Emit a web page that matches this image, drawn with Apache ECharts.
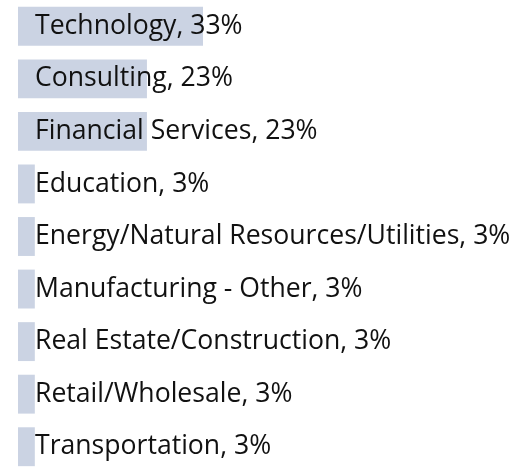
<!DOCTYPE html>
<html>
<head>
<meta charset="utf-8">
<style>
  html, body { margin: 0; padding: 0; background: #ffffff; }
  #chart { width: 524px; height: 473px; }
</style>
<script src="https://cdn.jsdelivr.net/npm/echarts@6/dist/echarts.min.js"></script>
</head>
<body>
<div id="chart"></div>
<script>
// Share of respondents by industry (percent)
const industries = [
  'Technology',
  'Consulting',
  'Financial Services',
  'Education',
  'Energy/Natural Resources/Utilities',
  'Manufacturing - Other',
  'Real Estate/Construction',
  'Retail/Wholesale',
  'Transportation'
];
const shares = [33, 23, 23, 3, 3, 3, 3, 3, 3];

const chart = echarts.init(document.getElementById('chart'), null, { renderer: 'canvas' });

chart.setOption({
  animation: false,
  grid: { left: 18, right: 321, top: -4, bottom: -11, containLabel: false },
  xAxis: {
    type: 'value',
    min: 0,
    max: 33,
    show: false
  },
  yAxis: {
    type: 'category',
    data: industries,
    inverse: true,
    show: false
  },
  series: [{
    type: 'bar',
    data: shares,
    barCategoryGap: '26%',
    itemStyle: { color: '#cbd3e3' },
    label: {
      show: true,
      position: [17, '50%'],
      align: 'left',
      verticalAlign: 'middle',
      formatter: '{b}, {c}%',
      fontFamily: 'Open Sans',
      fontSize: 26.6,
      color: '#111111'
    },
    labelLayout: { hideOverlap: false }
  }]
});
</script>
</body>
</html>
